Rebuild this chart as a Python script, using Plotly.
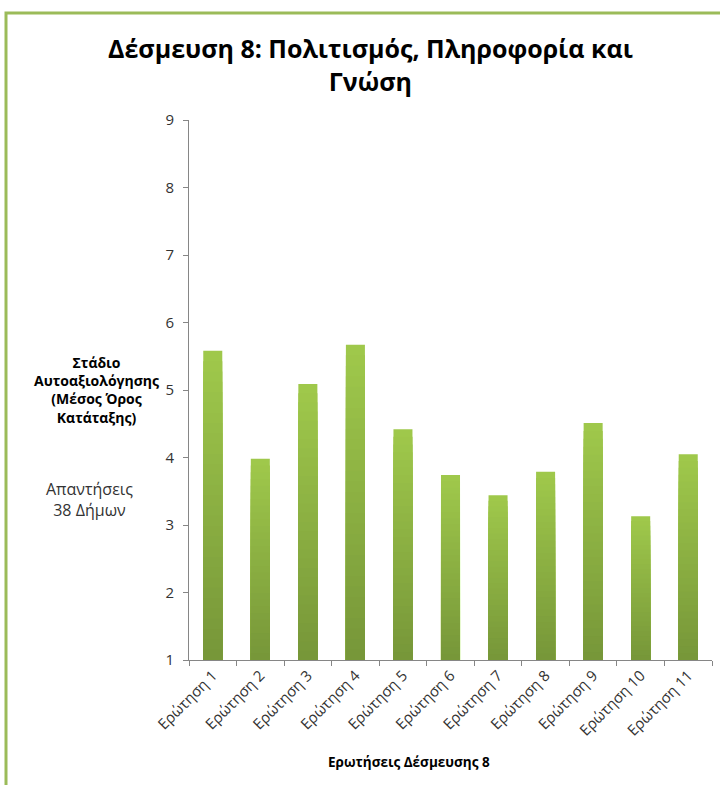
import plotly.graph_objects as go

categories = ["Ερώτηση 1", "Ερώτηση 2", "Ερώτηση 3", "Ερώτηση 4", "Ερώτηση 5", "Ερώτηση 6",
              "Ερώτηση 7", "Ερώτηση 8", "Ερώτηση 9", "Ερώτηση 10", "Ερώτηση 11"]
values = [5.58, 3.98, 5.09, 5.67, 4.42, 3.74, 3.44, 3.79, 4.51, 3.13, 4.05]
y_ticks = [1, 2, 3, 4, 5, 6, 7, 8, 9]

BASE = 1
N_SEG = 30
dark = (0x77, 0x97, 0x39)
light = (0x9F, 0xC8, 0x4B)

W, H = 720, 785
L, R, T, B = 189, 8, 120, 125
pw, ph = W - L - R, H - T - B

def px_x(p):
    return (p - L) / pw

def px_y(p):
    return (H - B - p) / ph

fig = go.Figure()
# overlaid bars from the base: tallest (lightest) first, shorter darker ones on top -> vertical gradient
for k in range(N_SEG):
    frac = (N_SEG - k) / N_SEG
    f = 1 - k / (N_SEG - 1)
    c = tuple(round(dark[i] + (light[i] - dark[i]) * f) for i in range(3))
    fig.add_trace(go.Bar(
        x=categories,
        y=[(v - BASE) * frac for v in values],
        base=BASE,
        marker=dict(color="rgb(%d,%d,%d)" % c, line=dict(width=0)),
        width=0.4,
        showlegend=False,
        hoverinfo="skip",
    ))

font = "Open Sans, Noto Sans, DejaVu Sans, sans-serif"
fig.update_layout(
    width=W, height=H,
    margin=dict(l=L, r=R, t=T, b=B),
    paper_bgcolor="white", plot_bgcolor="white",
    barmode="overlay",
    font=dict(family=font, color="#333333"),
    xaxis=dict(
        type="category", showline=True, linecolor="#868686", linewidth=1,
        ticks="outside", tickson="boundaries", ticklen=5, tickcolor="#868686",
        tickangle=-45, tickfont=dict(size=15, color="#333333"), showgrid=False,
        range=[-0.5, len(categories) - 0.5],
    ),
    yaxis=dict(
        range=[1, 9], tickvals=y_ticks, showline=True, linecolor="#868686", linewidth=1,
        ticks="outside", ticklen=5, tickcolor="#868686", showgrid=False, zeroline=False,
        tickfont=dict(size=15, color="#333333"), ticklabelstandoff=6,
    ),
    annotations=[
        dict(text="<b>Δέσμευση 8: Πολιτισμός, Πληροφορία και<br>Γνώση</b>",
             xref="paper", yref="paper", x=px_x(370), y=px_y(64), xanchor="center", yanchor="middle",
             showarrow=False, font=dict(size=25, color="#000000", family=font)),
        dict(text="<b>Στάδιο<br>Αυτοαξιολόγησης<br>(Μέσος Όρος<br>Κατάταξης)</b>",
             xref="paper", yref="paper", x=px_x(96), y=px_y(390), xanchor="center", yanchor="middle",
             showarrow=False, font=dict(size=14, color="#000000", family=font)),
        dict(text="Απαντήσεις<br>38 Δήμων",
             xref="paper", yref="paper", x=px_x(89), y=px_y(499), xanchor="center", yanchor="middle",
             showarrow=False, font=dict(size=16, color="#333333", family=font)),
        dict(text="<b>Ερωτήσεις Δέσμευσης 8</b>",
             xref="paper", yref="paper", x=px_x(409), y=px_y(762), xanchor="center", yanchor="middle",
             showarrow=False, font=dict(size=13.5, color="#000000", family=font)),
    ],
    shapes=[
        dict(type="rect", xref="paper", yref="paper",
             x0=px_x(6), y0=px_y(13), x1=px_x(740), y1=px_y(800),
             line=dict(color="#9BBB59", width=3), fillcolor="rgba(0,0,0,0)", layer="below"),
    ],
)

fig.write_html("out.html", config={"displayModeBar": False},
               post_script="document.body.style.margin='0';document.body.style.overflow='hidden';")
